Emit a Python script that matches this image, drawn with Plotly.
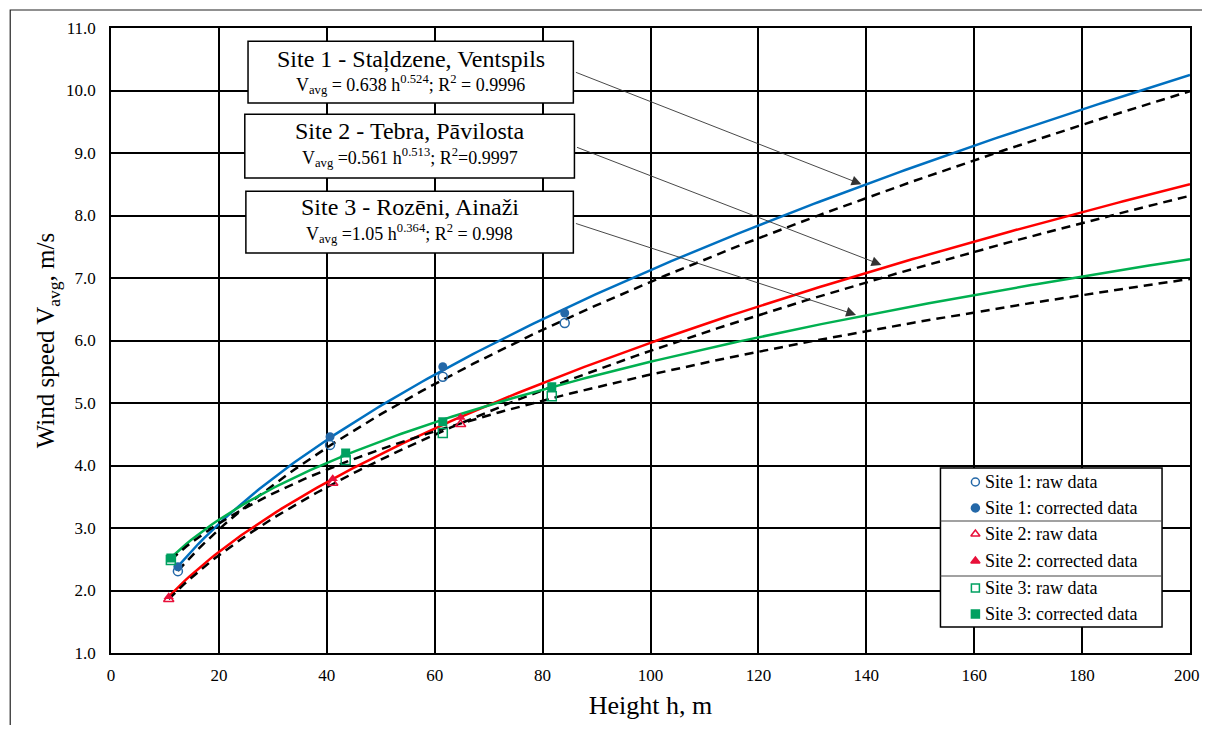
import numpy as np
import plotly.graph_objects as go

# ---------------- data ----------------
site1_h = [12.4, 40.6, 61.5, 84.1]
site1_raw = [2.31, 4.33, 5.42, 6.28]
site1_cor = [2.38, 4.46, 5.58, 6.44]

site2_h = [10.7, 41.1, 64.8]
site2_raw = [1.86, 3.72, 4.66]
site2_cor = [1.90, 3.79, 4.77]

site3_h = [11.1, 43.5, 61.5, 81.7]
site3_raw = [2.49, 4.09, 4.52, 5.11]
site3_cor = [2.52, 4.20, 4.70, 5.26]

x_ticks = [0, 20, 40, 60, 80, 100, 120, 140, 160, 180, 200]

box_titles = ["Site 1 - Staļdzene, Ventspils",
              "Site 2 - Tebra, Pāvilosta",
              "Site 3 - Rozēni, Ainaži"]
box_eqs = ["V<sub>avg</sub> = 0.638 h<sup>0.524</sup>; R<sup>2</sup> = 0.9996",
           "V<sub>avg</sub> =0.561 h<sup>0.513</sup>; R<sup>2</sup>=0.9997",
           "V<sub>avg</sub> =1.05 h<sup>0.364</sup>; R<sup>2</sup> = 0.998"]
legend_labels = ["Site 1: raw data", "Site 1: corrected data",
                 "Site 2: raw data", "Site 2: corrected data",
                 "Site 3: raw data", "Site 3: corrected data"]
x_max = 200

# ---------------- styles ----------------
FONT = "Liberation Serif, Times New Roman, serif"
line_cols = ["#0070C0", "#FF0000", "#00B050"]
mark_cols = ["#2468A8", "#E8103A", "#00A060"]
symbols = ["circle", "triangle-up", "square"]


def power_fit(h, v):
    b, ln_a = np.polyfit(np.log(h), np.log(v), 1)
    return np.exp(ln_a), b


fig = go.Figure()

sites = [(site1_h, site1_raw, site1_cor),
         (site2_h, site2_raw, site2_cor),
         (site3_h, site3_raw, site3_cor)]

# trend lines (power fits, as Excel)
for i, (h, raw, cor) in enumerate(sites):
    xs = np.linspace(min(h), x_max, 200)
    a_c, b_c = power_fit(h, cor)
    a_r, b_r = power_fit(h, raw)
    fig.add_trace(go.Scatter(x=xs, y=a_c * xs ** b_c, mode="lines",
                             line=dict(color=line_cols[i], width=2.5),
                             showlegend=False, hoverinfo="skip"))
    fig.add_trace(go.Scatter(x=xs, y=a_r * xs ** b_r, mode="lines",
                             line=dict(color="black", width=2.5, dash="9px,6px"),
                             showlegend=False, hoverinfo="skip"))

# markers
for i, (h, raw, cor) in enumerate(sites):
    fig.add_trace(go.Scatter(x=h, y=raw, mode="markers",
                             marker=dict(symbol=symbols[i] + "-open", size=9,
                                         color=mark_cols[i], line=dict(width=1.5, color=mark_cols[i])),
                             showlegend=False))
    fig.add_trace(go.Scatter(x=h, y=cor, mode="markers",
                             marker=dict(symbol=symbols[i], size=9, color=mark_cols[i]),
                             showlegend=False))

shapes = []
annotations = []

# outer frame
shapes.append(dict(type="rect", xref="paper", yref="paper",
                   x0=-0.0934, x1=1.2, y0=-0.3, y1=1.0288,
                   line=dict(color="#222", width=1.2), layer="below"))

# text boxes
boxes = [(25.4, 85.7, 9.80, 10.79, 10.50, 10.09),
         (24.8, 85.9, 8.60, 9.62, 9.36, 8.93),
         (25.0, 85.7, 7.40, 8.39, 8.14, 7.71)]
for k, (x0, x1, y0, y1, ty, ey) in enumerate(boxes):
    shapes.append(dict(type="rect", xref="x", yref="y", x0=x0, x1=x1, y0=y0, y1=y1,
                       fillcolor="white", line=dict(color="black", width=1.5), layer="above"))
    annotations.append(dict(x=(x0 + x1) / 2, y=ty, xref="x", yref="y", showarrow=False,
                            text=box_titles[k], font=dict(family=FONT, size=24, color="black")))
    annotations.append(dict(x=(x0 + x1) / 2, y=ey, xref="x", yref="y", showarrow=False,
                            text=box_eqs[k], font=dict(family=FONT, size=18, color="black")))

# arrows
arrows = [((85.9, 10.30), (139.1, 8.50)),
          ((86.1, 9.10), (142.8, 7.21)),
          ((85.9, 7.88), (138.1, 6.41))]
for (tx, ty), (hx, hy) in arrows:
    annotations.append(dict(x=hx, y=hy, ax=tx, ay=ty, xref="x", yref="y",
                            axref="x", ayref="y", showarrow=True, text="",
                            arrowhead=2, arrowsize=2.2, arrowwidth=0.9, arrowcolor="#333"))


# manual legend (page pixel -> data coordinates)
def px2x(px):
    return (px - 111) / 5.405


def py2y(py):
    return 1 + (653 - py) / 62.5


shapes.append(dict(type="rect", xref="x", yref="y", x0=px2x(942), x1=px2x(1164),
                   y0=py2y(627), y1=py2y(468), fillcolor="white",
                   line=dict(color="black", width=1.5), layer="between"))
for sep in (521, 576):
    shapes.append(dict(type="line", xref="x", yref="y", x0=px2x(942), x1=px2x(1164),
                       y0=py2y(sep), y1=py2y(sep), line=dict(color="#444", width=1.2), layer="between"))

rows_py = [482, 508, 534, 561, 588, 614]
for j, lab in enumerate(legend_labels):
    annotations.append(dict(x=px2x(985), y=py2y(rows_py[j]), xref="x", yref="y",
                            xanchor="left", showarrow=False, text=lab,
                            font=dict(family=FONT, size=18, color="black")))

leg_x, leg_y, leg_sym, leg_col = [], [], [], []
for j in range(6):
    s = j // 2
    leg_x.append(px2x(977))
    leg_y.append(py2y(rows_py[j]))
    leg_sym.append(symbols[s] + ("-open" if j % 2 == 0 else ""))
    leg_col.append(mark_cols[s])
fig.add_trace(go.Scatter(x=leg_x, y=leg_y, mode="markers", showlegend=False, cliponaxis=False,
                         hoverinfo="skip",
                         marker=dict(symbol=leg_sym, size=8, color=leg_col,
                                     line=dict(width=1.5, color=leg_col))))

# last x tick label sits at the figure's right edge: draw it as a label nudged inside
shown_ticks = x_ticks[:-1]
annotations.append(dict(x=x_ticks[-1], y=0, xref="x", yref="paper", yanchor="top",
                        xanchor="center", xshift=-3, yshift=-11, showarrow=False,
                        text=str(x_ticks[-1]), font=dict(family=FONT, size=17, color="black")))

# page has an 8px body margin: figure 1194x717 fills the 1210x733 window exactly
fig.update_layout(
    width=1194, height=717,
    margin=dict(l=103, r=10, t=20, b=72),
    paper_bgcolor="white", plot_bgcolor="white",
    font=dict(family=FONT, color="black"),
    shapes=shapes, annotations=annotations,
    showlegend=False,
)
fig.update_xaxes(range=[0, 200], tickvals=x_ticks, ticktext=[str(t) for t in shown_ticks] + [""],
                 showgrid=True, gridcolor="black", gridwidth=1.5,
                 showline=True, linecolor="black", linewidth=1.5, mirror=True, zeroline=False,
                 ticks="", ticklabelstandoff=6,
                 tickfont=dict(family=FONT, size=17, color="black"),
                 title=dict(text="Height h, m", font=dict(family=FONT, size=26, color="black"), standoff=12))
fig.update_yaxes(range=[1, 11], dtick=1, tickformat=".1f", showgrid=True, gridcolor="black", gridwidth=1.5,
                 showline=True, linecolor="black", linewidth=1.5, mirror=True, zeroline=False,
                 ticks="", ticklabelstandoff=10, tickfont=dict(family=FONT, size=17, color="black"),
                 title=dict(text="Wind speed V<sub>avg</sub>, m/s", font=dict(family=FONT, size=25, color="black"), standoff=4))

fig.write_html("out.html", config={"displayModeBar": False})
